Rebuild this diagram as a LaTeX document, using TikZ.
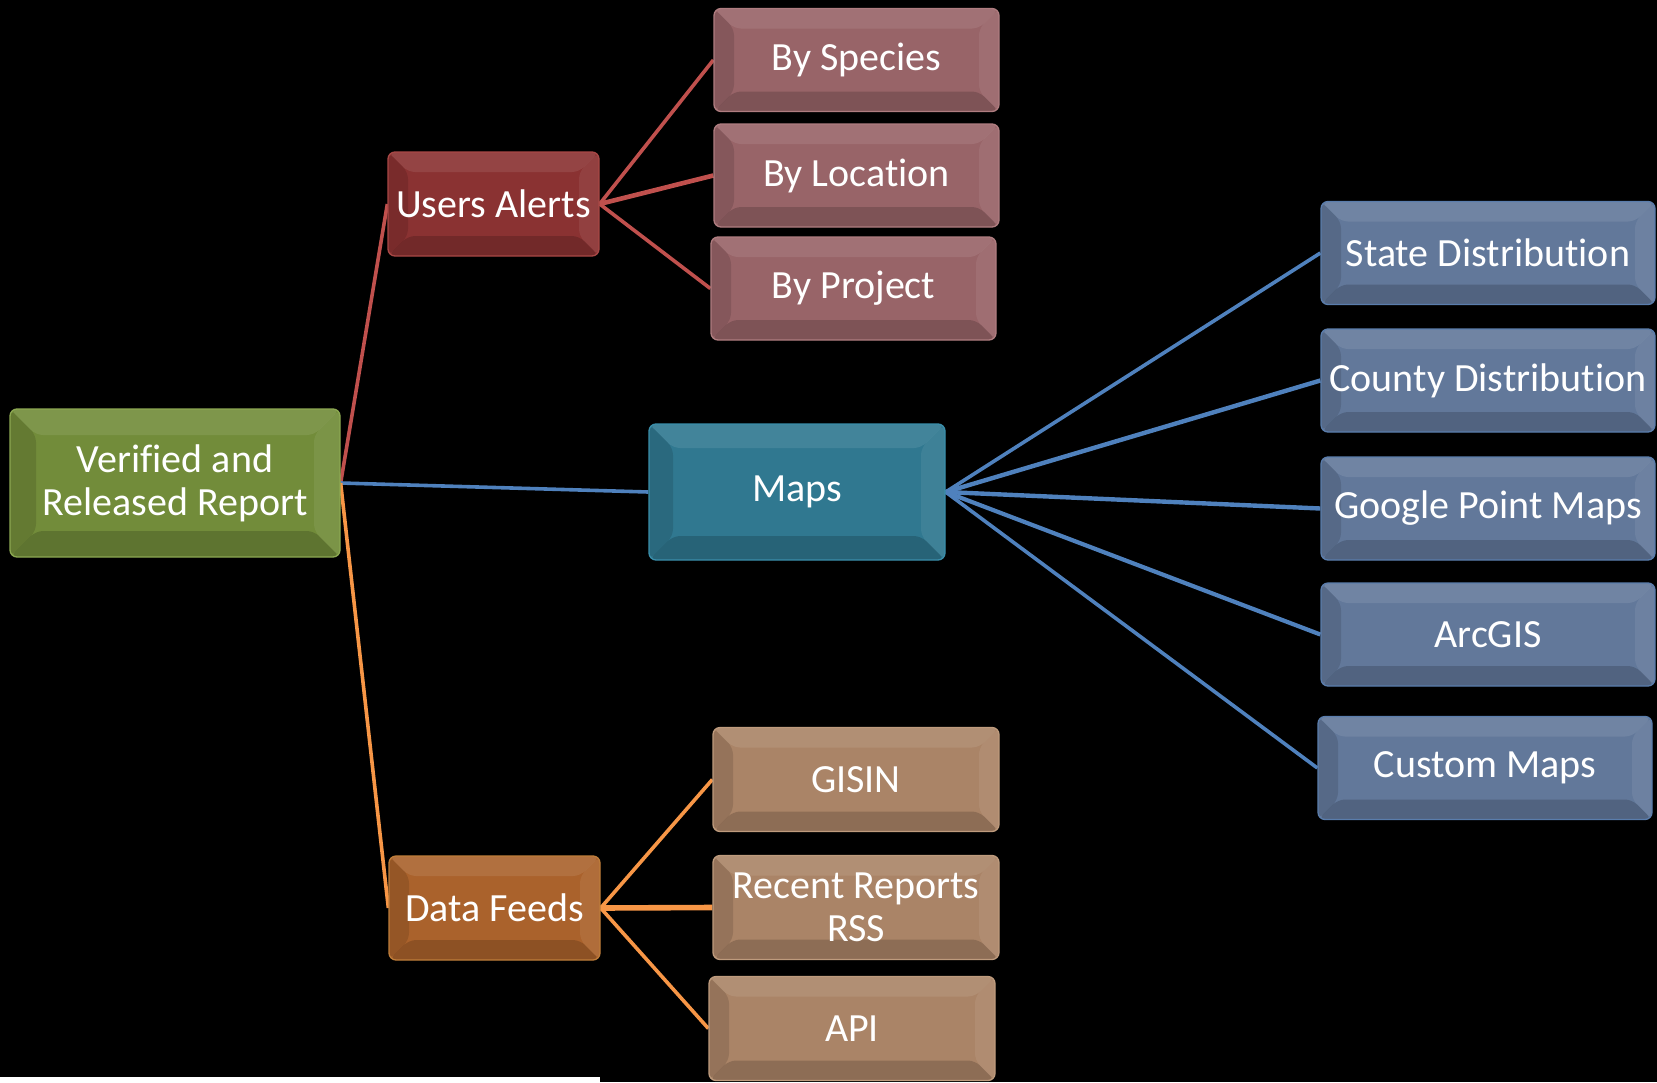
\documentclass[tikz,border=0pt]{standalone}
\usepackage{fontspec}
\setmainfont[Ligatures={NoCommon}]{Carlito}
\usetikzlibrary{calc}
\pgfdeclarelayer{bg}
\pgfdeclarelayer{lines}
\pgfsetlayers{bg,lines,main}
\definecolor{greenF}{RGB}{114,140,58}
\definecolor{greenB}{RGB}{140,168,82}
\definecolor{uaF}{RGB}{138,50,50}
\definecolor{uaB}{RGB}{168,72,70}
\definecolor{pinkF}{RGB}{152,100,104}
\definecolor{pinkB}{RGB}{175,125,128}
\definecolor{mapsF}{RGB}{48,120,144}
\definecolor{mapsB}{RGB}{58,142,170}
\definecolor{blueF}{RGB}{98,120,154}
\definecolor{blueB}{RGB}{90,125,172}
\definecolor{dfF}{RGB}{170,98,44}
\definecolor{dfB}{RGB}{190,125,58}
\definecolor{tanF}{RGB}{170,132,103}
\definecolor{tanB}{RGB}{190,155,125}
\definecolor{lred}{RGB}{192,80,77}
\definecolor{lblue}{RGB}{79,129,189}
\definecolor{lorange}{RGB}{247,150,70}
\newcommand\bevbands[1]{%
  \path (path picture bounding box.north west) coordinate (bNW)
        (path picture bounding box.north east) coordinate (bNE)
        (path picture bounding box.south east) coordinate (bSE)
        (path picture bounding box.south west) coordinate (bSW);
  \fill[white,opacity=.09] (bNW) -- (bNE) -- ($(bNE)+(-#1,#1)$) -- ($(bNW)+(#1,#1)$) -- cycle;
  \fill[white,opacity=.07] (bNE) -- (bSE) -- ($(bSE)+(-#1,-#1)$) -- ($(bNE)+(-#1,#1)$) -- cycle;
  \fill[black,opacity=.17] (bSE) -- (bSW) -- ($(bSW)+(#1,-#1)$) -- ($(bSE)+(-#1,-#1)$) -- cycle;
  \fill[black,opacity=.12] (bSW) -- (bNW) -- ($(bNW)+(#1,#1)$) -- ($(bSW)+(#1,-#1)$) -- cycle;
}
\tikzset{
  x=1pt, y=-1pt,
  box/.style={rounded corners=7pt, text=white, font=\fontsize{40}{43}\selectfont,
    align=center, inner sep=0pt, line width=1.3pt, path picture={\bevbands{#1}}},
  box/.default=20,
  rootbox/.style={box=26, fill=greenF, draw=greenB, minimum width=330pt, minimum height=148pt},
  uabox/.style={box=20, fill=uaF, draw=uaB, minimum width=211pt, minimum height=104pt},
  pinkbox/.style={box=20, fill=pinkF, draw=pinkB, minimum width=285pt, minimum height=103pt},
  mapsbox/.style={box=24, fill=mapsF, draw=mapsB, minimum width=296pt, minimum height=136pt},
  bluebox/.style={box=20, fill=blueF, draw=blueB, minimum width=334pt, minimum height=103pt},
  dfbox/.style={box=20, fill=dfF, draw=dfB, minimum width=211pt, minimum height=104pt},
  tanbox/.style={box=20, fill=tanF, draw=tanB, minimum width=286pt, minimum height=104pt},
  conn/.style={line width=3.6pt},
}
\begin{document}
\begin{tikzpicture}
\begin{pgfonlayer}{bg}
  \fill[black] (0,0) rectangle (1657,1082);
  \fill[white] (0,1077) rectangle (600,1082);
\end{pgfonlayer}
\useasboundingbox (0,0) rectangle (1657,1082);

\node[rootbox] (root) at (175,483) {Verified and\\Released Report};
\node[uabox] (ua) at (493.5,204) {Users Alerts};
\node[pinkbox] (sp) at (856.5,60) {By Species};
\node[pinkbox] (loc) at (856.5,175.5) {By Location};
\node[pinkbox] (proj) at (853.5,288.5) {By Project};
\node[mapsbox] (maps) at (797,492) {Maps};
\node[bluebox] (state) at (1488,253) {State Distribution};
\node[bluebox] (county) at (1488,380.5) {County Distribution};
\node[bluebox] (google) at (1488,508.5) {Google Point Maps};
\node[bluebox] (arc) at (1488,634.5) {ArcGIS};
\node[bluebox] (custom) at (1485,768) {Custom Maps};
\node[dfbox] (df) at (494.5,908) {Data Feeds};
\node[tanbox] (gisin) at (856,779.5) {GISIN};
\node[tanbox] (rss) at (856,907.5) {Recent Reports\\RSS};
\node[tanbox] (api) at (852,1028.5) {API};

\begin{pgfonlayer}{lines}
  \draw[conn,lred] (root.east) -- (ua.west);
  \draw[conn,lblue] (root.east) -- (maps.west);
  \draw[conn,lorange] (root.east) -- (df.west);
  \draw[conn,lred] (ua.east) -- (sp.west);
  \draw[conn,lred,line width=4.6pt] (ua.east) -- (loc.west);
  \draw[conn,lred] (ua.east) -- (proj.west);
  \draw[conn,lblue] (maps.east) -- (state.west);
  \draw[conn,lblue,line width=4.4pt] (maps.east) -- (county.west);
  \draw[conn,lblue,line width=4.4pt] (maps.east) -- (google.west);
  \draw[conn,lblue,line width=4.2pt] (maps.east) -- (arc.west);
  \draw[conn,lblue] (maps.east) -- (custom.west);
  \draw[conn,lorange] (df.east) -- (gisin.west);
  \draw[conn,lorange,line width=5.6pt] (df.east) -- (rss.west);
  \draw[conn,lorange] (df.east) -- (api.west);
\end{pgfonlayer}
\end{tikzpicture}
\end{document}
